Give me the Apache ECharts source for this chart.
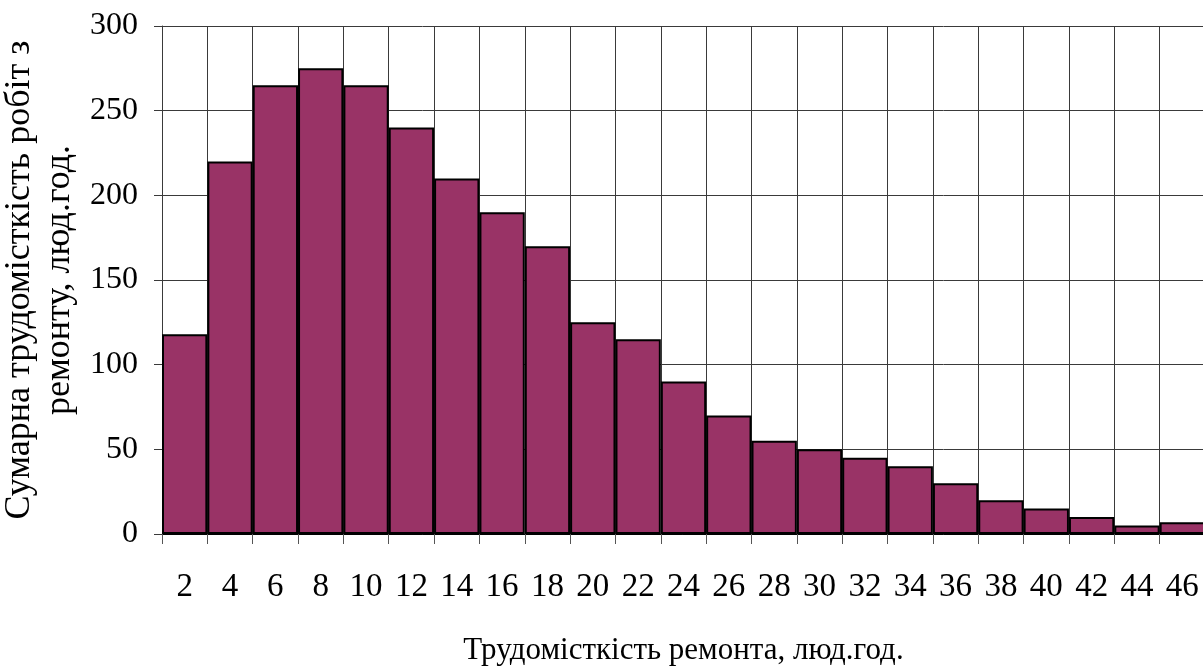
<!DOCTYPE html>
<html>
<head>
<meta charset="utf-8">
<script src="https://cdn.jsdelivr.net/npm/echarts@6/dist/echarts.min.js"></script>
<style>
html,body{margin:0;padding:0;background:#fff;}
#chart{width:1203px;height:668px;}
</style>
</head>
<body>
<div id="chart"></div>
<script>
var categories = ['2','4','6','8','10','12','14','16','18','20','22','24','26','28','30','32','34','36','38','40','42','44','46'];
var values = [118,220,265,275,265,240,210,190,170,125,115,90,70,55,50,45,40,30,20,15,10,5,7];
var yTicks = {min:0, max:300, interval:50};
var xTitle = 'Трудомісткість ремонта, люд.год.';
var yTitle = 'Сумарна трудомісткість робіт з\nремонту, люд.год.';

var FONT = '"Liberation Serif", "Times New Roman", serif';
var chart = echarts.init(document.getElementById('chart'), null, {renderer:'canvas'});
chart.setOption({
  animation:false,
  backgroundColor:'#ffffff',
  grid:{left:162, right:-2, top:26, bottom:134, containLabel:false, outerBoundsMode:'none'},
  xAxis:{
    type:'category',
    data:categories,
    boundaryGap:true,
    name:xTitle,
    nameLocation:'middle',
    nameGap:101,
    nameTextStyle:{fontFamily:FONT, fontSize:31, color:'#000'},
    axisLine:{show:true, lineStyle:{color:'#000', width:1}},
    axisTick:{show:true, length:10, interval:0, lineStyle:{color:'#555', width:1}},
    axisLabel:{interval:0, margin:37, fontFamily:FONT, fontSize:33, color:'#000'},
    splitLine:{show:true, interval:0, lineStyle:{color:'#3a3a3a', width:1}}
  },
  yAxis:{
    type:'value',
    min:yTicks.min, max:yTicks.max, interval:yTicks.interval,
    name:yTitle,
    nameLocation:'middle',
    nameGap:78,
    nameRotate:90,
    nameTextStyle:{fontFamily:FONT, fontSize:36, color:'#000', lineHeight:40, align:'center'},
    axisLine:{show:true, lineStyle:{color:'#3a3a3a', width:1}},
    axisTick:{show:true, length:8, lineStyle:{color:'#3a3a3a', width:1}},
    axisLabel:{margin:24, fontFamily:FONT, fontSize:32, color:'#000'},
    splitLine:{show:true, lineStyle:{color:'#3a3a3a', width:1}}
  },
  series:[{
    type:'bar',
    data:values,
    barCategoryGap:'0%',
    itemStyle:{color:'#993366', borderColor:'#000', borderWidth:2}
  }]
});
</script>
</body>
</html>
